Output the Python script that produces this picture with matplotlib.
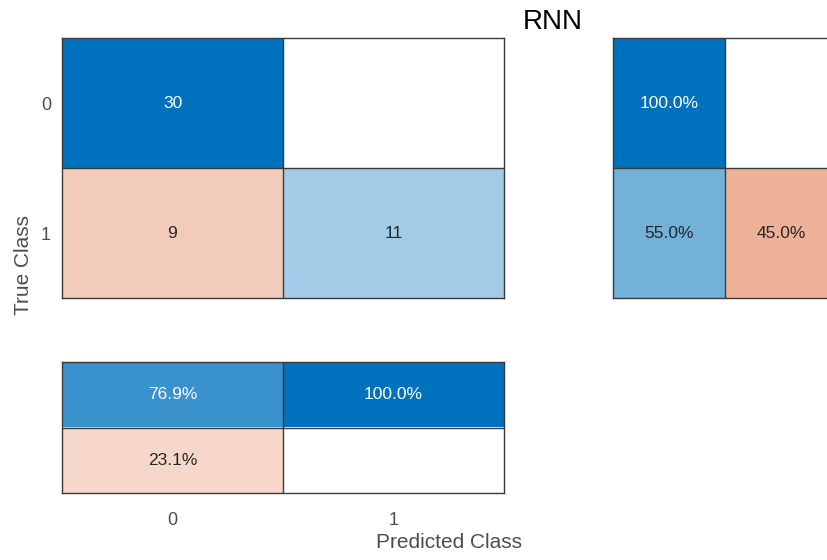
import numpy as np
import matplotlib
matplotlib.use("Agg")
import matplotlib.pyplot as plt

plt.rcParams['font.family'] = ['Liberation Sans', 'DejaVu Sans']

# Confusion matrix data
classes = ['0', '1']
counts = np.array([[30, 0],
                   [9, 11]])
title = 'RNN'

W, H = 827, 560
BLUE = np.array([0, 114, 189]) / 255.0
ORANGE = np.array([217, 83, 25]) / 255.0
WHITE = np.ones(3)
EDGE = '#3a3a3a'
DARK_TXT = '#262626'
TICK_TXT = '#4d4d4d'

fig = plt.figure(figsize=(W / 100, H / 100), dpi=100)


def px_axes(left, top, right, bottom):
    return fig.add_axes([left / W, 1 - bottom / H, (right - left) / W, (bottom - top) / H])


def shade(frac, base):
    return WHITE * (1 - frac) + base * frac


def draw_grid(ax, values, fracs, bases, fmt, nrows, ncols):
    img = np.zeros((nrows, ncols, 3))
    for i in range(nrows):
        for j in range(ncols):
            img[i, j] = shade(fracs[i, j], bases[i][j])
    ax.imshow(img, extent=(-0.5, ncols - 0.5, nrows - 0.5, -0.5),
              aspect='auto', interpolation='nearest')
    for i in range(nrows):
        for j in range(ncols):
            v = values[i, j]
            if v == 0:
                continue
            col = 'white' if fracs[i, j] > 0.6 else DARK_TXT
            ax.text(j, i, fmt(v), ha='center', va='center', fontsize=12.5, color=col)
    for k in range(1, nrows):
        ax.axhline(k - 0.5, color=EDGE, lw=1)
    for k in range(1, ncols):
        ax.axvline(k - 0.5, color=EDGE, lw=1)
    ax.set_xlim(-0.5, ncols - 0.5)
    ax.set_ylim(nrows - 0.5, -0.5)
    for s in ax.spines.values():
        s.set_color(EDGE)
        s.set_linewidth(1)
    ax.tick_params(length=0, labelsize=13, labelcolor=TICK_TXT)
    ax.set_xticks([])
    ax.set_yticks([])


n = len(classes)
diag_base = [[BLUE if i == j else ORANGE for j in range(n)] for i in range(n)]

# Main matrix
ax_main = px_axes(62, 38, 504, 298)
draw_grid(ax_main, counts, counts / counts.max(), diag_base, lambda v: f'{v:d}', n, n)
ax_main.set_yticks(range(n))
ax_main.set_yticklabels(classes)
ax_main.tick_params(axis='y', pad=8)

# Row summary (per true class): correct / incorrect
row_tot = counts.sum(axis=1)
row_pct = np.column_stack([np.diag(counts) / row_tot * 100,
                           (row_tot - np.diag(counts)) / row_tot * 100])
row_base = [[BLUE, ORANGE] for _ in range(n)]
ax_row = px_axes(613, 38, 837, 298)
draw_grid(ax_row, row_pct, row_pct / 100, row_base, lambda v: f'{v:.1f}%', n, 2)

# Column summary (per predicted class): correct / incorrect
col_tot = counts.sum(axis=0)
col_pct = np.vstack([np.diag(counts) / col_tot * 100,
                     (col_tot - np.diag(counts)) / col_tot * 100])
col_base = [[BLUE] * n, [ORANGE] * n]
ax_col = px_axes(62, 362, 504, 493)
draw_grid(ax_col, col_pct, col_pct / 100, col_base, lambda v: f'{v:.1f}%', 2, n)
ax_col.set_xticks(range(n))
ax_col.set_xticklabels(classes)
ax_col.tick_params(axis='x', pad=14)

# Labels and title
fig.text(24 / W, 1 - 265 / H, 'True Class', rotation=90, ha='center', va='center',
         fontsize=15, color=TICK_TXT)
fig.text(449 / W, 1 - 543 / H, 'Predicted Class', ha='center', va='center',
         fontsize=15, color=TICK_TXT)
fig.text(553 / W, 1 - 22 / H, title, ha='center', va='center', fontsize=20, color='black')

fig.savefig('out.png', dpi=100)
